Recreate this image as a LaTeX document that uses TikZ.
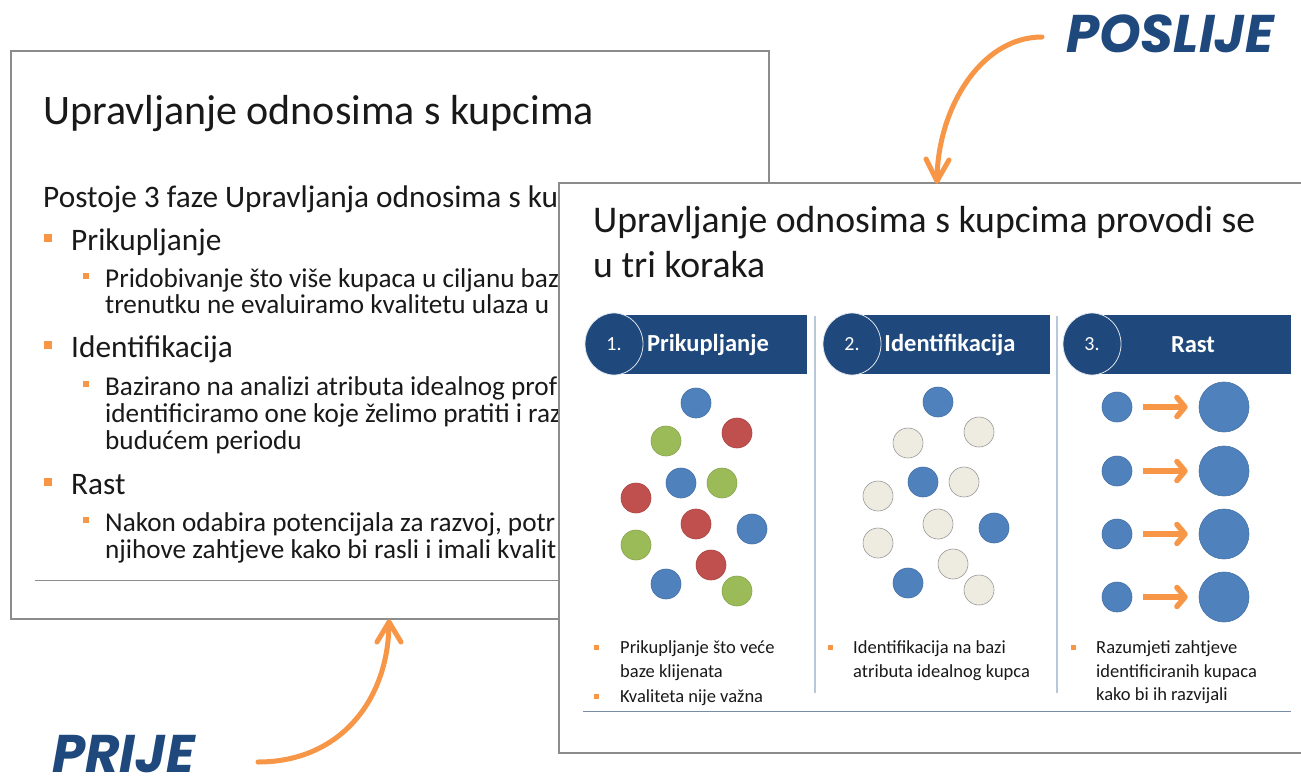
\documentclass[tikz,border=0pt]{standalone}
\usepackage{fontspec}
\setmainfont{Carlito}
\newfontfamily\handfont{Poppins}
\usetikzlibrary{arrows.meta,shapes.geometric}
\definecolor{slidegray}{RGB}{140,140,140}
\definecolor{hdr}{RGB}{31,73,125}
\definecolor{cblue}{RGB}{79,129,189}
\definecolor{cred}{RGB}{192,80,77}
\definecolor{cgreen}{RGB}{155,187,89}
\definecolor{cpale}{RGB}{238,236,225}
\definecolor{corange}{RGB}{247,150,70}
\definecolor{sepcol}{RGB}{185,200,216}
\definecolor{rulecol}{RGB}{120,140,165}
\definecolor{labblue}{RGB}{31,73,125}
\definecolor{txt}{RGB}{25,25,25}
\begin{document}
\begin{tikzpicture}[x=1pt,y=-1pt,
  slidebox/.style={draw=slidegray,line width=1.6pt,fill=white,inner sep=0pt,anchor=north west},
  ttl/.style={anchor=base west,inner sep=0pt,text=txt,font=\fontsize{42}{48}\selectfont},
  ttlb/.style={anchor=base west,inner sep=0pt,text=txt,font=\fontsize{37.7}{44}\selectfont},
  bodytxt/.style={anchor=base west,inner sep=0pt,text=txt,font=\fontsize{31.3}{36}\selectfont},
  lvltwo/.style={anchor=base west,inner sep=0pt,text=txt,font=\fontsize{27.2}{32}\selectfont},
  sqA/.style={fill=corange,inner sep=0pt,minimum size=8pt},
  sqB/.style={fill=corange,inner sep=0pt,minimum size=6pt},
  sqC/.style={fill=corange,inner sep=0pt,minimum size=5pt},
  smalltxt/.style={anchor=base west,inner sep=0pt,text=txt,font=\fontsize{18.5}{23}\selectfont},
  hdrbar/.style={fill=hdr,inner sep=0pt,minimum height=59pt,anchor=north west},
  hdrcirc/.style={ellipse,fill=hdr,draw=white!85!hdr,line width=0.8pt,minimum width=58pt,minimum height=62pt,inner sep=0pt,text=white,font=\fontsize{20}{24}\selectfont},
  hdrtxt/.style={text=white,inner sep=0pt,font=\fontsize{24.5}{28}\selectfont\bfseries},
  cdot/.style={circle,inner sep=0pt,minimum size=30pt,line width=0.6pt},
  bdot/.style={cdot,fill=cblue,draw=cblue!88!black},
  rdot/.style={cdot,fill=cred,draw=cred!88!black},
  gdot/.style={cdot,fill=cgreen,draw=cgreen!88!black},
  pdot/.style={cdot,fill=cpale,draw=black!40},
  bigdot/.style={circle,inner sep=0pt,minimum size=50pt,fill=cblue,draw=cblue!88!black,line width=0.6pt},
  growarrow/.style={draw=corange,line width=5.5pt,-{Straight Barb[length=8pt,width=19pt,round]},shorten <=11pt,shorten >=11pt},
  bigarrow/.style={draw=corange,line width=5pt,line cap=round,line join=round},
  handlabel/.style={text=labblue,inner sep=0pt,text depth=0pt,font=\handfont\fontsize{53}{60}\selectfont\bfseries\itshape},
  sepline/.style={draw=sepcol,line width=1.4pt},
]
\useasboundingbox (0,0) rectangle (1301,779);
\clip (0,0) rectangle (1301,779);
\fill[white] (0,0) rectangle (1301,779);

% ---------- BEFORE slide ----------
\node[slidebox,minimum width=758pt,minimum height=568pt] (before) at (10,50) {};
\node[ttl] (bt) at (43,124) {Upravljanje odnosima s kupcima};
\node[bodytxt] (b0) at (43,207) {Postoje 3 faze Upravljanja odnosima s ku};
\node[sqA] (q1) at (48,238) {};
\node[bodytxt] (b1) at (71,250) {Prikupljanje};
\node[sqB] (q2) at (86,276) {};
\node[lvltwo] (b2) at (105,287) {Pridobivanje što više kupaca u ciljanu baz};
\node[lvltwo] (b3) at (105,313) {trenutku ne evaluiramo kvalitetu ulaza u};
\node[sqA] (q3) at (48,345) {};
\node[bodytxt] (b4) at (71,357) {Identifikacija};
\node[sqB] (q4) at (86,384) {};
\node[lvltwo] (b5) at (105,395) {Bazirano na analizi atributa idealnog prof};
\node[lvltwo] (b6) at (105,422) {identificiramo one koje želimo pratiti i raz};
\node[lvltwo] (b7) at (105,449) {budućem periodu};
\node[sqA] (q5) at (48,482) {};
\node[bodytxt] (b8) at (71,494) {Rast};
\node[sqB] (q6) at (86,520) {};
\node[lvltwo] (b9) at (105,531) {Nakon odabira potencijala za razvoj, potr};
\node[lvltwo] (b10) at (105,558) {njihove zahtjeve kako bi rasli i imali kvalit};
\draw[draw=slidegray,line width=1pt] (35,580) -- (560,580);

% ---------- AFTER slide ----------
\node[slidebox,minimum width=760pt,minimum height=570pt] (after) at (558,182) {};
\node[ttlb] (at1) at (593,232) {Upravljanje odnosima s kupcima provodi se};
\node[ttlb] (at2) at (593,277) {u tri koraka};

% headers
\node[hdrbar,minimum width=201pt] (h1) at (606,315) {};
\node[hdrbar,minimum width=204pt] (h2) at (846,315) {};
\node[hdrbar,minimum width=205pt] (h3) at (1086,315) {};
\node[hdrcirc] (n1) at (614,344) {1.};
\node[hdrcirc] (n2) at (852,344) {2.};
\node[hdrcirc] (n3) at (1092,344) {3.};
\node[hdrtxt] (l1) at (708,345) {Prikupljanje};
\node[hdrtxt] (l2) at (950,345) {Identifikacija};
\node[hdrtxt] (l3) at (1193,345) {Rast};

% separators
\draw[sepline] (815,316) -- (815,693);
\draw[sepline] (1057,316) -- (1057,693);

% panel 1 dots
\node[bdot] (p1) at (696,403) {};
\node[gdot] (p2) at (666,441) {};
\node[rdot] (p3) at (737,433) {};
\node[bdot] (p4) at (681,483) {};
\node[gdot] (p5) at (722,483) {};
\node[rdot] (p6) at (636,498) {};
\node[rdot] (p7) at (696,524) {};
\node[bdot] (p8) at (752,529) {};
\node[gdot] (p9) at (636,545) {};
\node[rdot] (p10) at (711,565) {};
\node[bdot] (p11) at (666,584) {};
\node[gdot] (p12) at (737,591) {};

% panel 2 dots
\node[bdot] (s1) at (938,402) {};
\node[pdot] (s2) at (979,432) {};
\node[pdot] (s3) at (908,443) {};
\node[bdot] (s4) at (923,482) {};
\node[pdot] (s5) at (964,482) {};
\node[pdot] (s6) at (878,496) {};
\node[pdot] (s7) at (938,524) {};
\node[bdot] (s8) at (994,528) {};
\node[pdot] (s9) at (878,543) {};
\node[pdot] (s10) at (953,564) {};
\node[bdot] (s11) at (908,583) {};
\node[pdot] (s12) at (979,590) {};

% panel 3 growth
\foreach \yy [count=\i] in {407,471,534,597}{
  \node[bdot] (g\i) at (1117,\yy) {};
  \node[bigdot] (G\i) at (1224,\yy) {};
  \draw[growarrow] (g\i) -- (G\i);
}

% bullet texts
\node[sqC] (r1) at (596,647) {};
\node[smalltxt] (rt1a) at (620,653) {Prikupljanje što veće};
\node[smalltxt] (rt1b) at (620,677) {baze klijenata};
\node[sqC] (r2) at (596,696) {};
\node[smalltxt] (rt2) at (620,702) {Kvaliteta nije važna};
\node[sqC] (r3) at (830,647) {};
\node[smalltxt] (rt3a) at (853,653) {Identifikacija na bazi};
\node[smalltxt] (rt3b) at (853,677) {atributa idealnog kupca};
\node[sqC] (r4) at (1073,647) {};
\node[smalltxt] (rt4a) at (1096,653) {Razumjeti zahtjeve};
\node[smalltxt] (rt4b) at (1096,677) {identificiranih kupaca};
\node[smalltxt] (rt4c) at (1096,700) {kako bi ih razvijali};
\draw[draw=rulecol,line width=1pt] (583,711) -- (1291,711);

% ---------- labels and arrows ----------
\node[handlabel,anchor=base west] (prije) at (52,772) {PRIJE};
\node[handlabel,anchor=base west] (poslije) at (1066,52) {POSLIJE};
\coordinate (pa) at (258,762);
\coordinate (pt) at (389,622);
\draw[bigarrow] (pa) .. controls (340,762) and (389,700) .. (pt);
\draw[bigarrow] (377,642) -- (pt) -- (401,642);
\coordinate (qa) at (1042,37);
\coordinate (qt) at (937,181);
\draw[bigarrow] (qa) .. controls (980,37) and (937,110) .. (qt);
\draw[bigarrow] (926,159) -- (qt) -- (949,160);
\end{tikzpicture}
\end{document}
